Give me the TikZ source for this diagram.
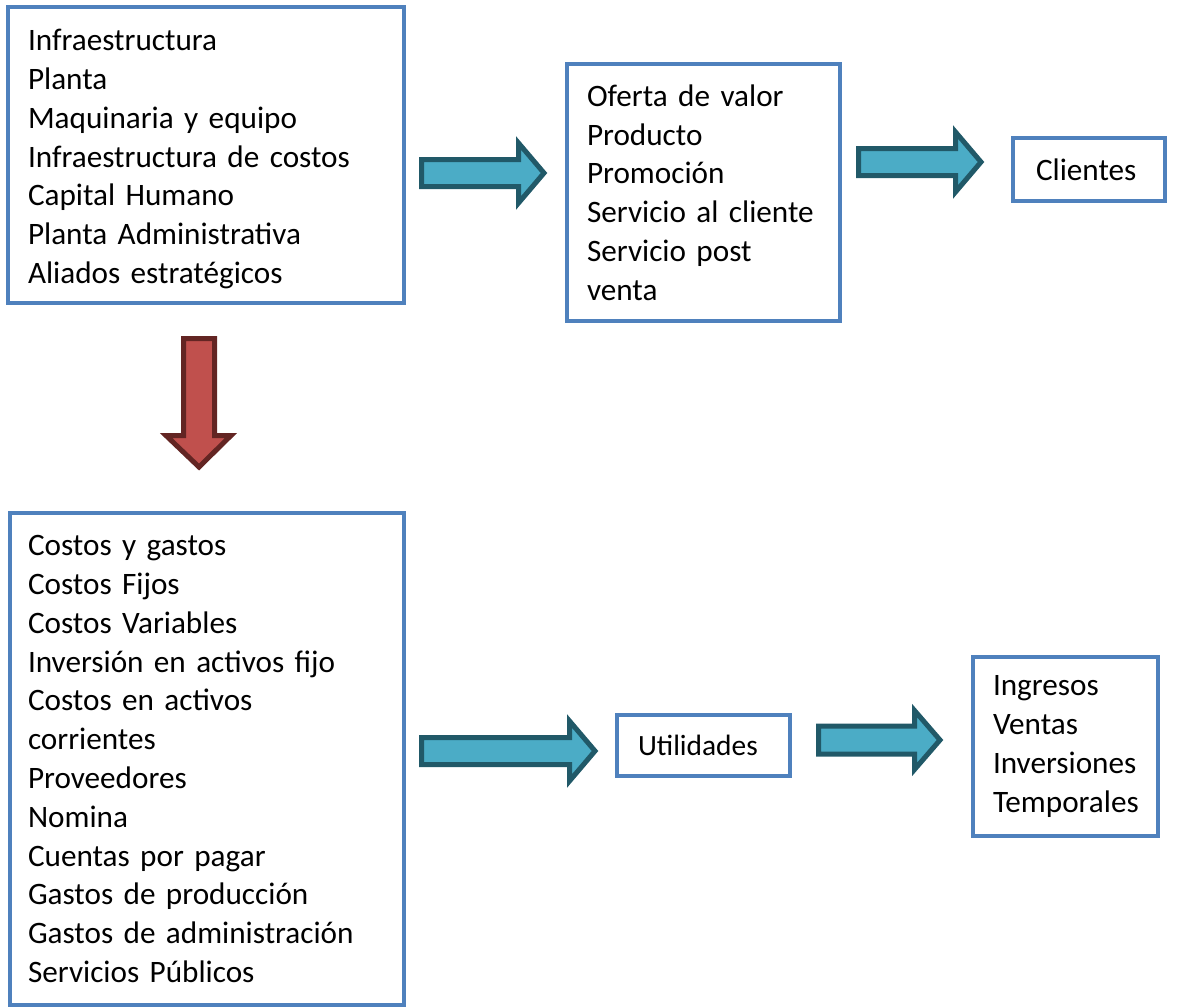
\documentclass[tikz,border=0pt]{standalone}
\usepackage{fontspec}
\setmainfont{Carlito}
\usetikzlibrary{positioning}

\definecolor{bordeazul}{RGB}{79,129,189}
\definecolor{flechafill}{RGB}{75,172,198}
\definecolor{flechaline}{RGB}{33,89,104}
\definecolor{rojofill}{RGB}{192,80,77}
\definecolor{rojoline}{RGB}{99,37,35}

% flecha a la derecha: x inicio, x base punta, x punta, y centro, medio cuerpo, media punta
\newcommand{\flechader}[6]{%
  \draw[flecha] (#1,#4-#5) -- (#2,#4-#5) -- (#2,#4-#6) -- (#3,#4)
    -- (#2,#4+#6) -- (#2,#4+#5) -- (#1,#4+#5) -- cycle;}

\begin{document}
\begin{tikzpicture}[x=0.5pt,y=-0.5pt,
  caja/.style={draw=bordeazul, line width=2pt, anchor=north west, align=left,
    inner xsep=10pt, inner ysep=0pt, font=\fontsize{15.6}{19.4}\selectfont},
  flecha/.style={draw=flechaline, fill=flechafill, line width=2.5pt},
  flecharoja/.style={draw=rojoline, fill=rojofill, line width=2.5pt}]

\useasboundingbox (0,0) rectangle (1185,1007);

\node[caja, text width=178pt, minimum height=148pt] (infra) at (6,5)
  {\rule{0pt}{14.7pt}Infraestructura\\Planta\\Maquinaria y equipo\\Infraestructura de costos\\
   Capital Humano\\Planta Administrativa\\Aliados estratégicos};
\node[caja, text width=116.5pt, minimum height=128.5pt] (oferta) at (565,62)
  {Oferta de valor\\Producto\\Promoción\\Servicio al cliente\\Servicio post\\venta};
\node[caja, inner xsep=11.5pt, text width=53pt, minimum height=31.5pt] (clientes) at (1011,136)
  {Clientes};
\node[caja, inner xsep=9pt, text width=179pt, minimum height=246pt] (costos) at (8,511)
  {Costos y gastos\\Costos Fijos\\Costos Variables\\Inversión en activos fijo\\
   Costos en activos\\corrientes\\Proveedores\\Nomina\\Cuentas por pagar\\
   Gastos de producción\\Gastos de administración\\Servicios Públicos};
\node[caja, inner xsep=10.5pt, text width=65.5pt, minimum height=30.5pt,
  font=\fontsize{14.7}{17}\selectfont] (utilidades) at (615,713) {Utilidades};
\node[caja, text width=72.5pt, minimum height=89.5pt] (ingresos) at (971,655)
  {Ingresos\\Ventas\\Inversiones\\Temporales};

\flechader{421.5}{518.5}{544}{173}{13.5}{30}
\flechader{858.5}{955.5}{981}{162}{13.5}{30}
\flechader{421.5}{569.5}{595}{751}{13.5}{30}
\flechader{818.5}{914.5}{940}{740}{14}{29.5}

\draw[flecharoja] (183.5,338.5) -- (214.5,338.5) -- (214.5,435.5) -- (231,435.5)
  -- (199,467) -- (166,435.5) -- (183.5,435.5) -- cycle;
\end{tikzpicture}
\end{document}
